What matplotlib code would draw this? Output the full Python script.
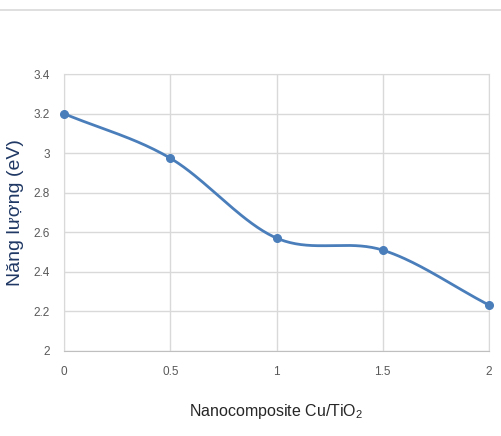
import numpy as np
import matplotlib.pyplot as plt
from matplotlib.lines import Line2D

plt.rcParams["font.family"] = ["Liberation Sans", "DejaVu Sans"]
plt.rcParams["mathtext.fontset"] = "custom"
plt.rcParams["mathtext.rm"] = "Liberation Sans"
plt.rcParams["mathtext.it"] = "Liberation Sans:italic"

# data
cu_ratio = [0, 0.5, 1, 1.5, 2]
energy_ev = [3.20, 2.975, 2.571, 2.51, 2.232]
y_ticks = [2, 2.2, 2.4, 2.6, 2.8, 3, 3.2, 3.4]
x_ticks = [0, 0.5, 1, 1.5, 2]

LINE = "#4a7ebb"
GRID = "#d9d9d9"
TICK = "#595959"


def smooth(xs, ys, n=40):
    # Excel-style smoothed line: Catmull-Rom segments through each point
    x = np.asarray(xs, float)
    y = np.asarray(ys, float)
    px = np.concatenate([[2 * x[0] - x[1]], x, [2 * x[-1] - x[-2]]])
    py = np.concatenate([[2 * y[0] - y[1]], y, [2 * y[-1] - y[-2]]])
    t = np.linspace(0, 1, n)
    out_x, out_y = [], []
    for i in range(1, len(px) - 2):
        for p, out in ((px, out_x), (py, out_y)):
            p0, p1, p2, p3 = p[i - 1], p[i], p[i + 1], p[i + 2]
            seg = 0.5 * (2 * p1 + (-p0 + p2) * t
                         + (2 * p0 - 5 * p1 + 4 * p2 - p3) * t ** 2
                         + (-p0 + 3 * p1 - 3 * p2 + p3) * t ** 3)
            out.extend(seg)
    return out_x, out_y


fig = plt.figure(figsize=(5.02, 4.36), dpi=100)
ax = fig.add_axes([0.1275, 0.195, 0.8466, 0.635])

sx, sy = smooth(cu_ratio, energy_ev)
ax.plot(sx, sy, color=LINE, linewidth=2.0, zorder=3, clip_on=False)
ax.plot(cu_ratio, energy_ev, "o", color=LINE, markersize=5.5, zorder=4, clip_on=False)

ax.set_xlim(0, 2)
ax.set_ylim(2, 3.4)
ax.set_xticks(x_ticks)
ax.set_xticklabels(["0", "0.5", "1", "1.5", "2"])
ax.set_yticks(y_ticks)
ax.set_yticklabels(["2", "2.2", "2.4", "2.6", "2.8", "3", "3.2", "3.4"])
ax.grid(True, color=GRID, linewidth=1.0)
ax.set_axisbelow(True)
for s in ax.spines.values():
    s.set_color(GRID)
ax.spines["bottom"].set_color("#bfbfbf")
ax.tick_params(length=0, colors=TICK, labelsize=8.5)
ax.tick_params(axis="x", pad=11)
ax.tick_params(axis="y", pad=10)

ax.set_xlabel("Nanocomposite Cu/TiO$_2$", fontsize=11.5, color="#262626", labelpad=17)
ax.set_ylabel("Năng lượng (eV)", fontsize=14, color="#1f3864", labelpad=7)

# thin frame line at the top of the chart area
fig.add_artist(Line2D([0, 1], [1 - 10 / 436, 1 - 10 / 436], color="#d9d9d9",
                      linewidth=1.2, transform=fig.transFigure))

fig.savefig("out.png", dpi=100, facecolor="white")
